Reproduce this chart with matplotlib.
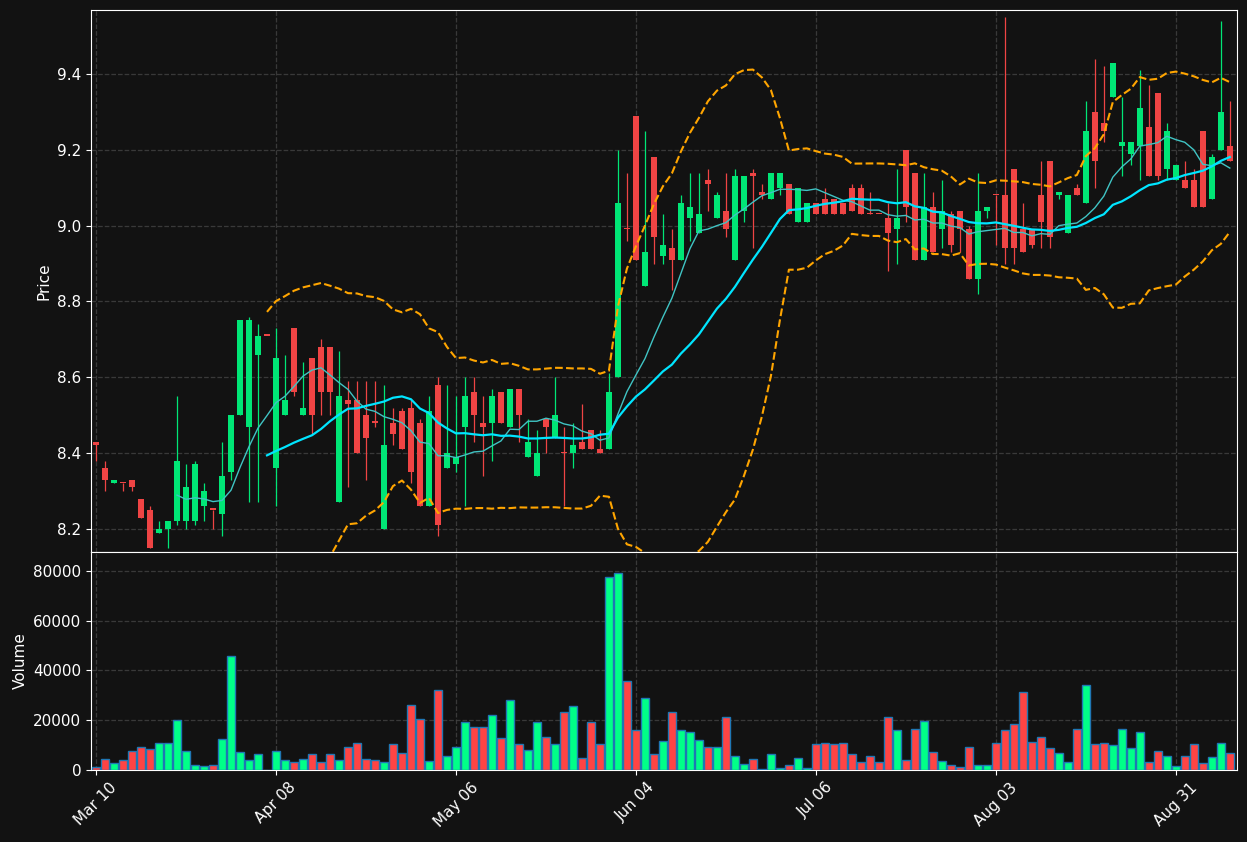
import matplotlib.pyplot as plt
import numpy as np
import pandas as pd

# OHLC, one row per trading day
opens = [8.43, 8.36, 8.32, 8.32, 8.33, 8.28, 8.25, 8.19, 8.20, 8.22,
         8.22, 8.22, 8.26, 8.25, 8.24, 8.35, 8.50, 8.47, 8.66, 8.71,
         8.36, 8.50, 8.73, 8.50, 8.65, 8.68, 8.68, 8.27, 8.54, 8.54,
         8.50, 8.48, 8.20, 8.48, 8.51, 8.52, 8.48, 8.26, 8.58, 8.36,
         8.37, 8.47, 8.56, 8.48, 8.48, 8.56, 8.47, 8.57, 8.39, 8.34,
         8.49, 8.44, 8.40, 8.40, 8.43, 8.46, 8.41, 8.41, 8.60, 8.99,
         9.29, 8.84, 9.18, 8.92, 8.94, 8.91, 9.02, 8.98, 9.12, 9.02,
         9.04, 8.91, 9.04, 9.14, 9.09, 9.07, 9.10, 9.11, 9.01, 9.01,
         9.06, 9.07, 9.07, 9.06, 9.10, 9.10, 9.03, 9.03, 9.02, 8.99,
         9.20, 9.14, 8.91, 9.05, 8.99, 9.03, 9.04, 8.99, 8.86, 9.04,
         9.08, 9.08, 9.15, 8.99, 8.99, 9.08, 9.17, 9.08, 8.98, 9.10,
         9.06, 9.30, 9.27, 9.34, 9.21, 9.19, 9.21, 9.26, 9.35, 9.15,
         9.12, 9.12, 9.12, 9.25, 9.07, 9.20, 9.21]
closes = [8.42, 8.33, 8.33, 8.32, 8.31, 8.23, 8.15, 8.20, 8.22, 8.38,
          8.31, 8.37, 8.30, 8.25, 8.34, 8.50, 8.75, 8.75, 8.71, 8.71,
          8.65, 8.54, 8.56, 8.52, 8.50, 8.56, 8.56, 8.55, 8.53, 8.40,
          8.44, 8.48, 8.42, 8.45, 8.41, 8.35, 8.26, 8.51, 8.21, 8.40,
          8.39, 8.55, 8.50, 8.47, 8.55, 8.48, 8.57, 8.50, 8.43, 8.40,
          8.47, 8.50, 8.40, 8.42, 8.41, 8.41, 8.40, 8.56, 9.06, 8.99,
          8.91, 8.93, 8.97, 8.95, 8.91, 9.06, 9.05, 9.03, 9.11, 9.08,
          8.99, 9.13, 9.13, 9.13, 9.08, 9.14, 9.14, 9.03, 9.10, 9.06,
          9.03, 9.03, 9.03, 9.03, 9.04, 9.03, 9.03, 9.03, 8.98, 9.02,
          9.05, 8.91, 9.05, 8.93, 9.04, 8.95, 8.99, 8.86, 9.04, 9.05,
          9.08, 8.94, 8.94, 8.93, 8.95, 9.01, 8.97, 9.09, 9.08, 9.08,
          9.25, 9.17, 9.25, 9.43, 9.22, 9.22, 9.31, 9.13, 9.13, 9.25,
          9.16, 9.10, 9.05, 9.05, 9.18, 9.30, 9.17]
highs = [8.43, 8.38, 8.33, 8.32, 8.33, 8.28, 8.26, 8.22, 8.22, 8.55,
         8.37, 8.38, 8.32, 8.25, 8.43, 8.50, 8.75, 8.76, 8.74, 8.71,
         8.73, 8.66, 8.73, 8.64, 8.65, 8.70, 8.68, 8.67, 8.59, 8.59,
         8.59, 8.59, 8.58, 8.52, 8.52, 8.54, 8.49, 8.55, 8.60, 8.58,
         8.55, 8.60, 8.60, 8.55, 8.57, 8.56, 8.57, 8.57, 8.49, 8.46,
         8.49, 8.60, 8.47, 8.48, 8.53, 8.46, 8.46, 8.61, 9.20, 9.14,
         9.29, 9.25, 9.18, 9.03, 8.99, 9.08, 9.14, 9.14, 9.15, 9.09,
         9.14, 9.15, 9.13, 9.15, 9.11, 9.14, 9.14, 9.11, 9.10, 9.06,
         9.06, 9.10, 9.07, 9.06, 9.11, 9.11, 9.09, 9.03, 9.06, 9.15,
         9.20, 9.14, 9.14, 9.09, 9.12, 9.04, 9.04, 9.00, 9.14, 9.05,
         9.08, 9.55, 9.15, 9.06, 8.99, 9.17, 9.17, 9.09, 9.08, 9.11,
         9.33, 9.44, 9.42, 9.43, 9.34, 9.22, 9.41, 9.37, 9.35, 9.27,
         9.16, 9.17, 9.15, 9.25, 9.19, 9.54, 9.33]
lows = [8.38, 8.30, 8.32, 8.30, 8.30, 8.23, 8.15, 8.19, 8.15, 8.21,
        8.20, 8.21, 8.22, 8.20, 8.18, 8.33, 8.50, 8.27, 8.27, 8.71,
        8.26, 8.50, 8.55, 8.50, 8.45, 8.50, 8.50, 8.27, 8.31, 8.40,
        8.33, 8.47, 8.20, 8.42, 8.41, 8.32, 8.26, 8.26, 8.18, 8.36,
        8.35, 8.26, 8.43, 8.34, 8.38, 8.48, 8.47, 8.43, 8.39, 8.34,
        8.40, 8.44, 8.26, 8.36, 8.41, 8.41, 8.40, 8.41, 8.60, 8.96,
        8.91, 8.84, 8.90, 8.90, 8.83, 8.91, 8.96, 8.98, 9.04, 9.02,
        8.97, 8.91, 9.01, 8.94, 9.07, 9.07, 9.08, 9.03, 9.01, 9.01,
        9.03, 9.03, 9.03, 9.03, 9.04, 9.03, 9.03, 9.03, 8.88, 8.90,
        9.01, 8.91, 8.91, 8.93, 8.94, 8.93, 8.93, 8.86, 8.82, 9.02,
        8.95, 8.90, 8.90, 8.93, 8.94, 8.94, 8.94, 9.07, 8.98, 9.08,
        9.06, 9.10, 9.22, 9.34, 9.13, 9.16, 9.12, 9.13, 9.12, 9.12,
        9.12, 9.10, 9.05, 9.05, 9.07, 9.20, 9.17]
volumes = [1.3, 4.3, 2.7, 3.9, 7.5, 9.1, 8.3, 10.7, 10.7, 19.9,
           7.5, 1.9, 1.5, 1.9, 12.3, 45.6, 7.1, 3.9, 6.3, 0.2,
           7.5, 3.9, 3.1, 4.3, 6.3, 3.1, 6.3, 3.9, 9.1, 10.7,
           4.3, 3.9, 3.1, 10.3, 6.7, 26.0, 20.3, 3.5, 32.0, 5.5,
           9.1, 19.1, 17.1, 17.1, 22.0, 12.7, 28.0, 10.3, 7.9, 19.1,
           13.1, 10.3, 23.2, 25.6, 4.7, 19.1, 10.3, 77.4, 79.0, 35.6,
           15.9, 28.8, 6.3, 11.5, 23.2, 15.9, 15.1, 11.9, 9.1, 9.1,
           21.2, 5.5, 2.3, 4.3, 0.3, 6.3, 0.7, 1.9, 4.7, 0.7,
           10.3, 10.7, 10.3, 10.7, 6.3, 3.1, 5.5, 3.1, 21.2, 15.9,
           3.9, 16.3, 19.5, 7.1, 3.5, 1.9, 1.3, 9.1, 1.9, 1.9,
           10.7, 15.9, 18.3, 31.2, 11.1, 13.1, 8.7, 6.7, 3.1, 16.3,
           34.0, 10.3, 10.7, 9.9, 16.3, 8.7, 15.1, 3.1, 7.5, 5.5,
           1.5, 5.5, 10.3, 2.7, 5.1, 10.7, 6.7]
volumes = [v * 1000 for v in volumes]
tick_labels = ["Mar 10", "Apr 08", "May 06", "Jun 04", "Jul 06", "Aug 03", "Aug 31"]

df = pd.DataFrame({"open": opens, "high": highs, "low": lows, "close": closes, "volume": volumes})
df["ma10"] = df["close"].rolling(10).mean()
df["ma20"] = df["close"].rolling(20).mean()
std20 = df["close"].rolling(20).std()
df["bb_up"] = df["ma20"] + 2 * std20
df["bb_lo"] = df["ma20"] - 2 * std20

bg = "#121212"
up_c = "#00e676"
dn_c = "#ef4444"
plt.rcParams["font.family"] = "DejaVu Sans"

fig = plt.figure(figsize=(12.47, 8.42), dpi=100, facecolor=bg)
ax = fig.add_axes([91 / 1247, 1 - 552 / 842, 1146 / 1247, 542 / 842])
axv = fig.add_axes([91 / 1247, 1 - 770 / 842, 1146 / 1247, 218 / 842], sharex=ax)

x = np.arange(len(df))
colors = [up_c if c > o else dn_c for o, c in zip(df["open"], df["close"])]

# Candles
ax.vlines(x, df["low"], df["high"], colors=colors, linewidth=0.9, zorder=3)
body_lo = np.minimum(df["open"], df["close"])
body_h = np.maximum(np.abs(df["close"] - df["open"]), 0.004)
ax.bar(x, body_h, bottom=body_lo, width=0.7, color=colors, zorder=4)

# Moving averages and bands
ax.plot(x, df["ma10"], color="#40c4c4", linewidth=1.0, zorder=5)
ax.plot(x, df["ma20"], color="#00e5ff", linewidth=1.6, zorder=5)
ax.plot(x, df["bb_up"], color="#ffa500", linestyle="--", linewidth=1.5, zorder=5)
ax.plot(x, df["bb_lo"], color="#ffa500", linestyle="--", linewidth=1.5, zorder=5)

# Volume
vol_colors = ["#00ff88" if c > o else "#ff4444" for o, c in zip(df["open"], df["close"])]
axv.bar(x, df["volume"], width=0.95, color=vol_colors, edgecolor="#1f77b4", linewidth=1.0, zorder=3)

for a in (ax, axv):
    a.set_facecolor(bg)
    a.grid(True, color="#444444", linestyle="--", linewidth=0.9, alpha=0.8)
    a.set_axisbelow(True)
    for s in a.spines.values():
        s.set_color("white")
    a.tick_params(colors="white", labelsize=11)

ax.set_xlim(-0.56, 126.8)
ax.set_ylim(8.139, 9.569)
ax.set_yticks([8.2, 8.4, 8.6, 8.8, 9.0, 9.2, 9.4])
ax.set_ylabel("Price", color="white", fontsize=11)
ax.tick_params(axis="x", labelbottom=False)

axv.set_ylim(0, 87500)
axv.set_yticks([0, 20000, 40000, 60000, 80000])
axv.set_ylabel("Volume", color="white", fontsize=11)
axv.set_xticks(np.arange(0, 121, 20))
axv.set_xticklabels(tick_labels, rotation=45)

fig.savefig("out.png", dpi=100, facecolor=bg)
